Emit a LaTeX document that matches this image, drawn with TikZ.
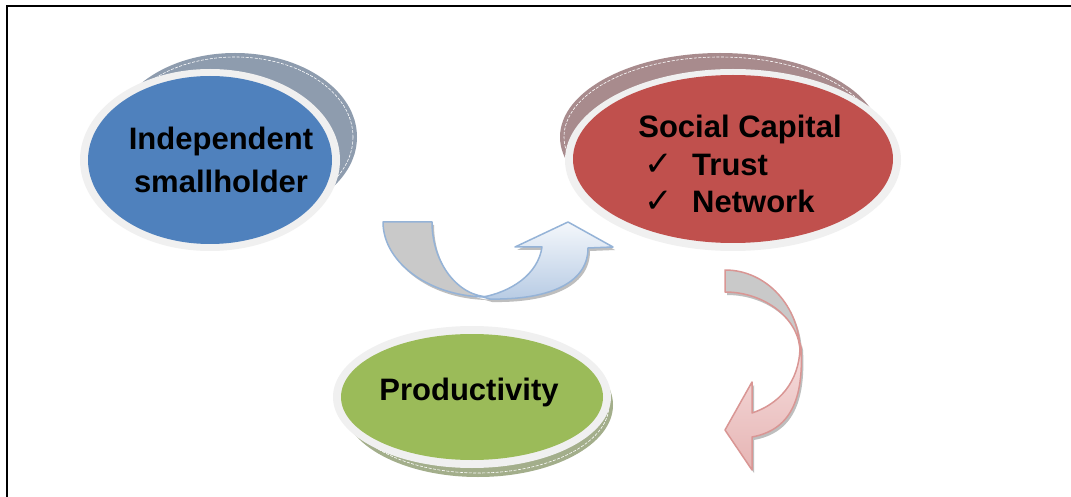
\documentclass[tikz,border=0pt]{standalone}
\usepackage{fontspec}
\setmainfont{Liberation Sans}
\newfontfamily\symfont{DejaVu Sans}
\usetikzlibrary{shapes.geometric}
\definecolor{blueE}{HTML}{4F81BD}
\definecolor{redE}{HTML}{C0504D}
\definecolor{greenE}{HTML}{9BBB59}
\definecolor{blueback}{HTML}{8E9CAE}
\definecolor{redback}{HTML}{A88B8D}
\definecolor{greenback}{HTML}{A3AE8B}
\definecolor{rimc}{HTML}{F0F0F0}
\definecolor{bandgray}{HTML}{C9C9C9}
\definecolor{blueline}{HTML}{95B3D7}
\definecolor{bluelight}{HTML}{F4F7FB}
\definecolor{bluedark}{HTML}{B7CBE4}
\definecolor{pinkline}{HTML}{D99694}
\definecolor{pinklight}{HTML}{F6DEDE}
\definecolor{pinkdark}{HTML}{E6B5B4}
\definecolor{shadowc}{HTML}{8A8A8A}
\def\bluebackband{(383,222) -- (432,222) .. controls (432,263) and (458,297) .. (490,297) .. controls (431,298) and (383,263) .. (383,222) -- cycle}
\def\bluefrontband{(483,297) .. controls (510,292) and (538,275) .. (542,247) -- (515,247) -- (568,222) -- (613,247) -- (588,248) .. controls (588,285) and (545,300) .. (490,299) -- cycle}
\def\redbackband{(725,270) .. controls (766,270) and (800,306) .. (800,352) .. controls (800,320) and (766,292) .. (725,292) -- cycle}
\def\redfrontband{(800,343) .. controls (801,375) and (785,402) .. (752,413) -- (752,382) -- (725,430) -- (752,470) -- (752,437) .. controls (790,430) and (804,400) .. (801,347) -- cycle}
\begin{document}
\begin{tikzpicture}[x=1pt,y=-1pt,
  lbl/.style={font=\fontsize{31}{38}\selectfont\bfseries, inner sep=0pt},
  chk/.style={font=\symfont\fontsize{34}{34}\selectfont, inner sep=0pt},
  main/.style={ellipse, inner sep=0pt},
  dashrim/.style={white, dashed, line width=0.6pt, dash pattern=on 3pt off 1.5pt},
  shad/.style={fill=shadowc, fill opacity=0.55}]
\useasboundingbox (0,0) rectangle (1071,497);
\fill[white] (0,0) rectangle (1071,497);
\draw[line width=2pt] (7,497) -- (7,6) -- (1071,6);

% Independent smallholder
\fill[blueback] (235,137) ellipse [x radius=122, y radius=84];
\draw[dashrim] (235,137) ellipse [x radius=118, y radius=80];
\fill[rimc] (210,160) ellipse [x radius=130, y radius=91];
\node[main, fill=blueE, minimum width=244pt, minimum height=168pt] (indep) at (210,160) {};
\node[lbl, anchor=base] (indepA) at (221,150) {Independent};
\node[lbl, anchor=base] (indepB) at (221,193) {smallholder};

% Social capital
\fill[redback] (720,137) ellipse [x radius=160, y radius=84];
\draw[dashrim] (720,137) ellipse [x radius=156, y radius=80];
\fill[rimc] (733,160) ellipse [x radius=168, y radius=91];
\node[main, fill=redE, minimum width=320pt, minimum height=168pt] (social) at (733,159) {};
\node[lbl, anchor=base] (socialT) at (740,138) {Social Capital};
\node[chk, anchor=base west] (chkA) at (644,176) {✓};
\node[lbl, anchor=base west] (trust) at (692,176) {Trust};
\node[chk, anchor=base west] (chkB) at (644,213) {✓};
\node[lbl, anchor=base west] (network) at (692,213) {Network};

% Productivity
\fill[greenback] (478,405) ellipse [x radius=135, y radius=72];
\draw[dashrim] (478,405) ellipse [x radius=131, y radius=68];
\fill[rimc] (472,397) ellipse [x radius=139, y radius=71];
\node[main, fill=greenE, minimum width=262pt, minimum height=126pt] (prod) at (472,397) {};
\node[lbl, anchor=base] (prodT) at (469,400) {Productivity};

% blue U-turn arrow
\fill[shad, shift={(2,3)}] \bluebackband;
\filldraw[fill=bandgray, draw=blueline, line width=1.5pt, line join=round] \bluebackband;
\fill[shad, shift={(2,3)}] \bluefrontband;
\shade[top color=bluelight, bottom color=bluedark] \bluefrontband;
\draw[blueline, line width=1.5pt, line join=round] \bluefrontband;

% red curved down arrow
\fill[shad, shift={(2,3)}] \redbackband;
\filldraw[fill=bandgray, draw=pinkline, line width=1.5pt, line join=round] \redbackband;
\fill[shad, shift={(2,3)}] \redfrontband;
\shade[top color=pinklight, bottom color=pinkdark] \redfrontband;
\draw[pinkline, line width=1.5pt, line join=round] \redfrontband;
\end{tikzpicture}
\end{document}
